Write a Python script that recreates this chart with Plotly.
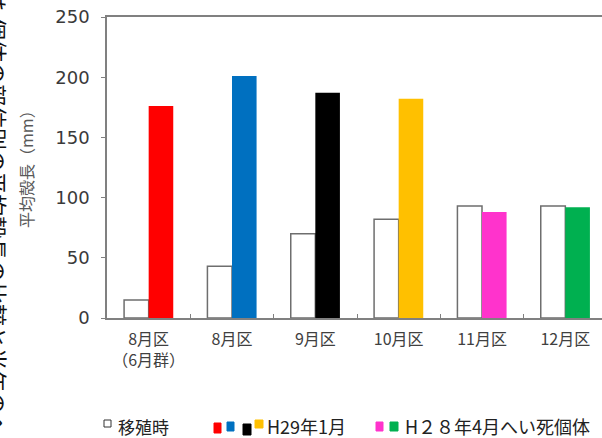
import plotly.graph_objects as go

# Areas (x categories) and their tick labels
areas = ["8月区(6月群)", "8月区", "9月区", "10月区", "11月区", "12月区"]
area_labels = ["8月区<br>（6月群）", "8月区", "9月区", "10月区", "11月区", "12月区"]

# Mean shell length (mm)
at_transplant = [15, 43, 70, 82, 93, 93]
later_sample = [176, 201, 187, 182, 88, 92]
later_colors = ["#FF0000", "#0070C0", "#000000", "#FFC000", "#FF33CC", "#00B050"]

y_ticks = [0, 50, 100, 150, 200, 250]

JP = "Noto Sans CJK JP"
AX = "#808080"
TXT = "#404040"

# plot area in pixels (used to place the hand-made legend)
L, T, W, H = 107, 17, 495, 301


def px(x):
    return (x - L) / W


def py(y):
    return (T + H - y) / H


fig = go.Figure()
fig.add_trace(go.Bar(
    x=areas, y=at_transplant, name="移殖時",
    marker=dict(color="white", line=dict(color="#6e6e6e", width=1.5)),
))
fig.add_trace(go.Bar(
    x=areas, y=later_sample, name="H29年1月 / H28年4月へい死個体",
    marker=dict(color=later_colors, line=dict(width=0)),
))

fig.update_layout(
    width=602, height=438,
    margin=dict(l=L, r=0, t=T, b=438 - T - H),
    paper_bgcolor="white", plot_bgcolor="white",
    barmode="group", bargap=0.41, bargroupgap=0,
    showlegend=False,
    font=dict(family=JP, color=TXT),
)

fig.update_xaxes(
    type="category", range=[-0.5, 5.44],
    tickmode="array", tickvals=areas, ticktext=area_labels,
    tickson="boundaries", ticks="inside", ticklen=4, tickwidth=1, tickcolor=AX,
    showline=True, linecolor=AX, linewidth=1.5, mirror=True,
    showgrid=False, zeroline=False,
    tickfont=dict(family=JP, size=16, color=TXT),
    ticklabelstandoff=6,
)
fig.update_yaxes(
    range=[0, 250], tickvals=y_ticks,
    ticks="outside", ticklen=4, tickwidth=1, tickcolor=AX,
    showline=True, linecolor=AX, linewidth=1.5,
    showgrid=False, zeroline=False,
    tickfont=dict(family="DejaVu Sans", size=18, color="#3a3a3a"),
    ticklabelstandoff=8,
)

# Y-axis title
fig.add_annotation(
    x=px(26), y=py(165), xref="paper", yref="paper",
    xanchor="center", yanchor="middle",
    text="平均殻長（mm）", textangle=-90, showarrow=False,
    font=dict(family=JP, size=16, color="#595959"),
)

# Vertical caption running along the left edge, cut by the page border
fig.add_annotation(
    x=px(0), y=py(205), xref="paper", yref="paper",
    xanchor="center", yanchor="middle", xshift=-2,
    text="図　移殖した個体の部位別の平均殻長の比較と当年のへい死個体",
    textangle=90, showarrow=False,
    font=dict(family=JP, size=22, color="#111111"),
)

# Hand-built legend row: small colour squares (pixel boxes) and labels
legend_boxes = [
    ("white", 104, 111, 420, 427),
    ("#FF0000", 214, 221, 423, 433),
    ("#0070C0", 227, 234, 422, 431),
    ("#000000", 243, 251, 424, 435),
    ("#FFC000", 255, 263, 420, 428),
    ("#FF33CC", 376, 383, 422, 431),
    ("#00B050", 390, 398, 422, 431),
]
for color, x0, x1, y0, y1 in legend_boxes:
    fig.add_shape(
        type="rect", xref="paper", yref="paper",
        x0=px(x0), x1=px(x1), y0=py(y1), y1=py(y0),
        fillcolor=color,
        line=dict(color="#333333" if color == "white" else color, width=1),
    )

legend_texts = [
    (116, "移殖時", 17),
    (265, "H29年1月", 18),
    (403, "H２８年4月へい死個体", 18),
]
for x0, label, size in legend_texts:
    fig.add_annotation(
        x=px(x0), y=py(426), xref="paper", yref="paper",
        xanchor="left", yanchor="middle", text=label, showarrow=False,
        font=dict(family=JP, size=size, color="#222222"),
    )

fig.write_html("out.html")
